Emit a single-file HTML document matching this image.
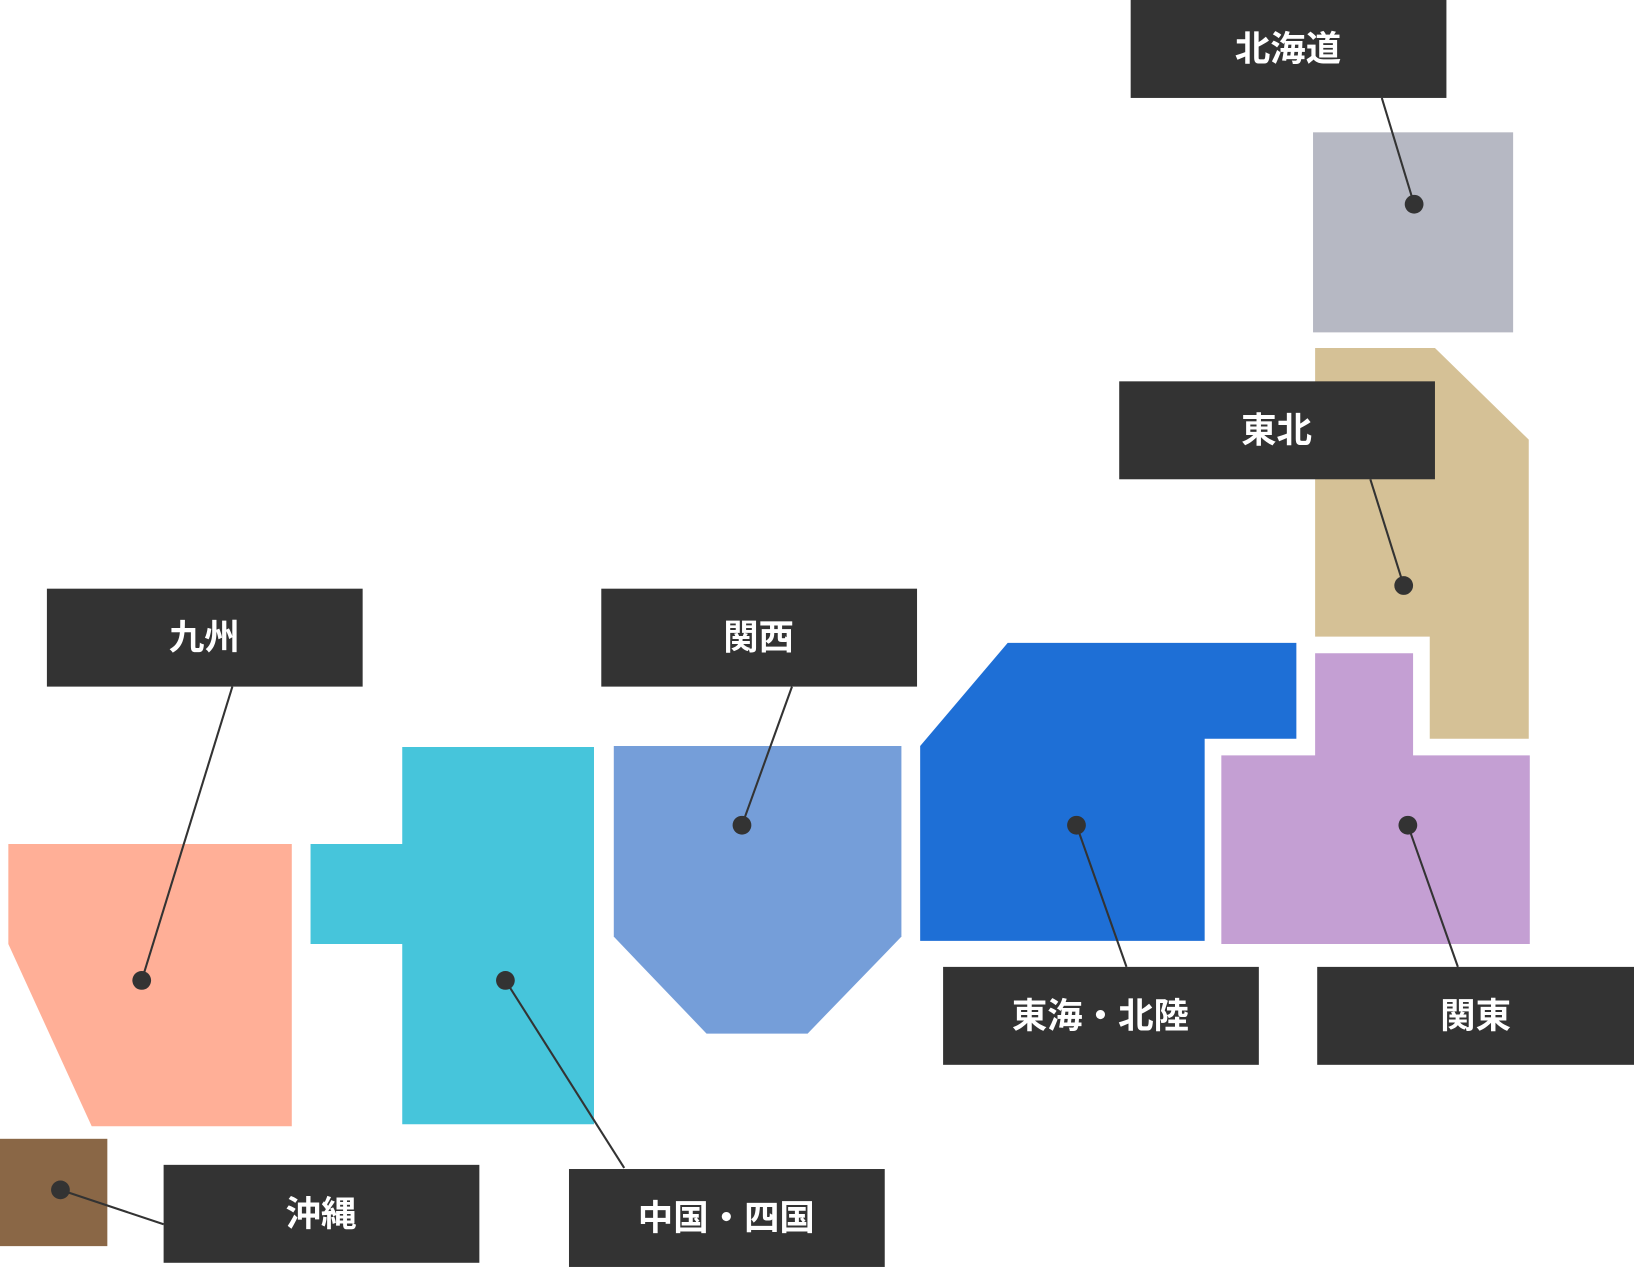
<!DOCTYPE html>
<html><head><meta charset="utf-8"><style>
html,body{margin:0;padding:0;background:#fff;width:1634px;height:1268px;overflow:hidden}
svg{display:block}
text{font-family:"Liberation Sans","Noto Sans CJK JP",sans-serif;font-weight:bold;font-size:34px;fill:#fff;text-anchor:middle;dominant-baseline:central}
</style></head><body>
<svg width="1634" height="1268" viewBox="0 0 1568 1217" preserveAspectRatio="none" xmlns="http://www.w3.org/2000/svg">
<rect x="1260" y="127" width="192" height="192" fill="#b6b8c3"/>
<polygon points="1262,334 1377,334 1467,422 1467,709 1372,709 1372,611 1262,611" fill="#d5c196"/>
<polygon points="1262,627 1356,627 1356,725 1468,725 1468,906 1172,906 1172,725 1262,725" fill="#c49fd3"/>
<polygon points="967,617 1244,617 1244,709 1156,709 1156,903 883,903 883,716" fill="#1e6fd6"/>
<polygon points="589,716 865,716 865,899 775,992 678,992 589,899" fill="#759ed9"/>
<polygon points="386,717 570,717 570,1079 386,1079 386,906 298,906 298,810 386,810" fill="#46c5db"/>
<polygon points="8,810 280,810 280,1081 88,1081 8,906" fill="#ffaf97"/>
<rect x="0" y="1093" width="103" height="103" fill="#8a6746"/>
<g stroke="#333" stroke-width="2">
<line x1="1326" y1="94" x2="1357" y2="196"/>
<line x1="1315" y1="460" x2="1347" y2="562"/>
<line x1="1351" y1="792" x2="1399" y2="928"/>
<line x1="1033" y1="792" x2="1081" y2="928"/>
<line x1="712" y1="792" x2="760" y2="659"/>
<line x1="485" y1="941" x2="599" y2="1121"/>
<line x1="136" y1="941" x2="223" y2="659"/>
<line x1="58" y1="1142" x2="157" y2="1175"/>
</g>
<g fill="#333">
<circle cx="1357" cy="196" r="9"/><circle cx="1347" cy="562" r="9"/><circle cx="1351" cy="792" r="9"/>
<circle cx="1033" cy="792" r="9"/><circle cx="712" cy="792" r="9"/><circle cx="485" cy="941" r="9"/>
<circle cx="136" cy="941" r="9"/><circle cx="58" cy="1142" r="9"/>
<rect x="1085" y="0" width="303" height="94"/>
<rect x="1074" y="366" width="303" height="94"/>
<rect x="1264" y="928" width="304" height="94"/>
<rect x="905" y="928" width="303" height="94"/>
<rect x="577" y="565" width="303" height="94"/>
<rect x="45" y="565" width="303" height="94"/>
<rect x="546" y="1122" width="303" height="94"/>
<rect x="157" y="1118" width="303" height="94"/>
</g>
<text x="1236" y="47">北海道</text>
<text x="1225" y="413">東北</text>
<text x="1416" y="975">関東</text>
<text x="1056" y="975">東海・北陸</text>
<text x="728" y="612">関西</text>
<text x="196" y="612">九州</text>
<text x="697" y="1169">中国・四国</text>
<text x="308" y="1165">沖縄</text>
</svg>
</body></html>
